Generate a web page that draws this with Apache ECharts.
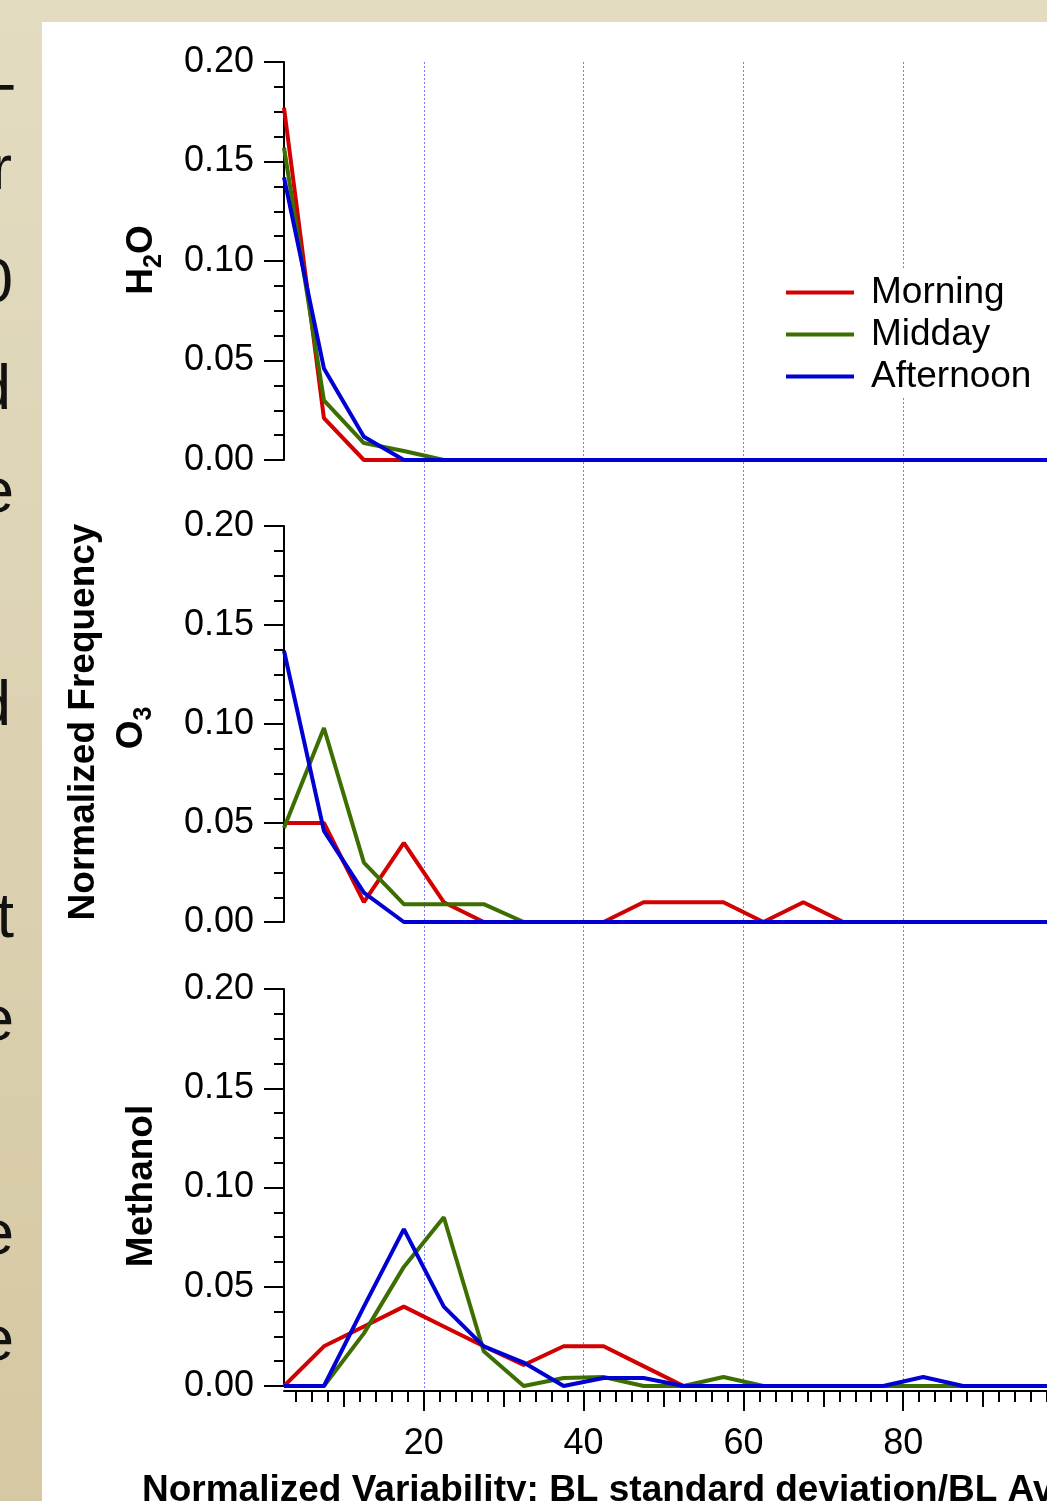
<!DOCTYPE html>
<html>
<head>
<meta charset="utf-8">
<script src="https://cdn.jsdelivr.net/npm/echarts@6/dist/echarts.min.js"></script>
<style>
html, body { margin: 0; padding: 0; }
body { background: linear-gradient(to bottom, #e3dcc1, #d5c8a3); }
#main { width: 1047px; height: 1501px; }
</style>
</head>
<body>
<div id="main"></div>
<script>
// bin centres of the normalized variability (%)
var bins = [2.5, 7.5, 12.5, 17.5, 22.5, 27.5, 32.5, 37.5, 42.5, 47.5, 52.5, 57.5, 62.5, 67.5, 72.5, 77.5, 82.5, 87.5, 92.5, 97.5, 102.5];

var seriesNames = ['Morning', 'Midday', 'Afternoon'];

// H2O
var h2oMorning   = [0.177, 0.021, 0, 0, 0, 0, 0, 0, 0, 0, 0, 0, 0, 0, 0, 0, 0, 0, 0, 0, 0];
var h2oMidday    = [0.157, 0.030, 0.0085, 0.0045, 0, 0, 0, 0, 0, 0, 0, 0, 0, 0, 0, 0, 0, 0, 0, 0, 0];
var h2oAfternoon = [0.142, 0.046, 0.0117, 0, 0, 0, 0, 0, 0, 0, 0, 0, 0, 0, 0, 0, 0, 0, 0, 0, 0];

// O3
var o3Morning   = [0.050, 0.050, 0.010, 0.040, 0.010, 0, 0, 0, 0, 0.010, 0.010, 0.010, 0, 0.010, 0, 0, 0, 0, 0, 0, 0];
var o3Midday    = [0.0475, 0.098, 0.030, 0.009, 0.009, 0.009, 0, 0, 0, 0, 0, 0, 0, 0, 0, 0, 0, 0, 0, 0, 0];
var o3Afternoon = [0.137, 0.046, 0.0148, 0, 0, 0, 0, 0, 0, 0, 0, 0, 0, 0, 0, 0, 0, 0, 0, 0, 0];

// Methanol
var meMorning   = [0, 0.020, 0.030, 0.040, 0.030, 0.020, 0.0106, 0.020, 0.020, 0.010, 0, 0, 0, 0, 0, 0, 0, 0, 0, 0, 0];
var meMidday    = [0, 0, 0.0265, 0.060, 0.085, 0.0175, 0, 0.004, 0.0045, 0, 0, 0.0045, 0, 0, 0, 0, 0, 0, 0, 0, 0];
var meAfternoon = [0, 0, 0.040, 0.079, 0.040, 0.020, 0.0118, 0, 0.004, 0.004, 0, 0, 0, 0, 0, 0, 0.0045, 0, 0, 0, 0];

var xMajorTicks = [20, 40, 60, 80];
var xMidTicks = [10, 30, 50, 70, 90];
var xMinorTicks = [4, 6, 8, 12, 14, 16, 18, 22, 24, 26, 28, 32, 34, 36, 38, 42, 44, 46, 48, 52, 54, 56, 58, 62, 64, 66, 68, 72, 74, 76, 78, 82, 84, 86, 88, 92, 94, 96, 98];

var colors = ['#d20000', '#3c6e00', '#0000d2'];

// letters of the slide text cut by the left edge
var sideLetters = [
    ['T', 15, 111], ['r', 12, 172], ['0', 13, 285], ['d', 11, 392], ['e', 14, 495],
    ['d', 11, 708], ['t', 14, 920], ['e', 14, 1023], ['e', 14, 1237], ['e', 14, 1343]
];

function pairs(vals) {
    return bins.map(function (x, i) { return [x, vals[i]]; });
}

var F = 'Liberation Sans';
var gridLeft = 284, gridWidth = 779;

function yAx(idx) {
    return {
        type: 'value', gridIndex: idx, min: 0, max: 0.2, interval: 0.05,
        axisLine: { show: true, lineStyle: { color: '#000', width: 2 } },
        axisTick: { show: true, inside: false, length: 20, lineStyle: { color: '#000', width: 2 } },
        minorTick: { show: true, splitNumber: 4, length: 10, lineStyle: { color: '#000', width: 2 } },
        splitLine: { show: false },
        axisLabel: { color: '#000', fontFamily: F, fontSize: 36, margin: 30, padding: [5, 0, 0, 0],
            formatter: function (v) { return v.toFixed(2); } }
    };
}

function hiddenX(idx) {
    return { type: 'value', gridIndex: idx, min: 2.5, max: 100, show: false };
}

function bottomX(ticks, len, withLine, withLabel) {
    return {
        type: 'value', gridIndex: 2, min: 2.5, max: 100, position: 'bottom', offset: 5,
        axisLine: { show: withLine, onZero: false, lineStyle: { color: '#000', width: 2 } },
        axisTick: { show: true, customValues: ticks, length: len, lineStyle: { color: '#000', width: 2 } },
        axisLabel: { show: withLabel, customValues: ticks, color: '#000', fontFamily: F, fontSize: 36, margin: 35 },
        splitLine: { show: false }
    };
}

function grid(top, height) {
    return { left: gridLeft, top: top, width: gridWidth, height: height, containLabel: false, outerBoundsMode: 'none' };
}

var series = [];
var sets = [[h2oMorning, h2oMidday, h2oAfternoon], [o3Morning, o3Midday, o3Afternoon], [meMorning, meMidday, meAfternoon]];
sets.forEach(function (set, g) {
    set.forEach(function (vals, k) {
        series.push({
            name: seriesNames[k], type: 'line', xAxisIndex: g, yAxisIndex: g,
            data: pairs(vals), showSymbol: false, symbol: 'none',
            lineStyle: { color: colors[k], width: 4 }, itemStyle: { color: colors[k] },
            z: 3 + k, animation: false
        });
    });
});

var bold = { fontFamily: F, fontWeight: 'bold', fontSize: 37, fill: '#000' };
var subRich = {
    a: { fontFamily: F, fontWeight: 'bold', fontSize: 37, lineHeight: 37, color: '#000' },
    s: { fontFamily: F, fontWeight: 'bold', fontSize: 25, lineHeight: 25, color: '#000', padding: [24, 0, 0, 0] }
};
var graphics = [
    { type: 'rect', z: -100, silent: true, shape: { x: 42, y: 22, width: 1005, height: 1479 }, style: { fill: '#fff' } },
    { type: 'text', x: 142, y: 260, rotation: Math.PI / 2, style: { text: '{a|H}{s|2}{a|O}', align: 'center', verticalAlign: 'middle', rich: subRich } },
    { type: 'text', x: 84, y: 722, rotation: Math.PI / 2, style: Object.assign({ text: 'Normalized Frequency', align: 'center', verticalAlign: 'middle' }, bold) },
    { type: 'text', x: 132, y: 728, rotation: Math.PI / 2, style: { text: '{a|O}{s|3}', align: 'center', verticalAlign: 'middle', rich: subRich } },
    { type: 'text', x: 142, y: 1186, rotation: Math.PI / 2, style: Object.assign({ text: 'Methanol', align: 'center', verticalAlign: 'middle' }, bold) },
    { type: 'text', x: 142, y: 1491, style: Object.assign({ text: 'Normalized Variability: BL standard deviation/BL Average [%]', align: 'left', verticalAlign: 'middle' }, bold) }
];
sideLetters.forEach(function (s) {
    graphics.push({ type: 'text', x: s[1], y: s[2], silent: true,
        style: { text: s[0], align: 'right', verticalAlign: 'middle', fontFamily: F, fontSize: 63, fill: '#111' } });
});

var chart = echarts.init(document.getElementById('main'), null, { renderer: 'canvas' });
chart.setOption({
    backgroundColor: 'transparent',
    animation: false,
    grid: [grid(62, 398), grid(526, 396), grid(989, 397), grid(62, 1329)],
    xAxis: [
        hiddenX(0), hiddenX(1),
        bottomX(xMinorTicks, 11, false, false),
        bottomX(xMidTicks, 16, false, false),
        bottomX(xMajorTicks, 20, true, true),
        {
            type: 'value', gridIndex: 3, min: 2.5, max: 100,
            axisLine: { show: false }, axisLabel: { show: false },
            axisTick: { show: false, customValues: xMajorTicks },
            splitLine: { show: true, customValues: xMajorTicks, lineStyle: { color: '#7a7aff', width: 1, type: [2, 2] } }
        }
    ],
    yAxis: [yAx(0), yAx(1), yAx(2), { type: 'value', gridIndex: 3, show: false, min: 0, max: 1 }],
    legend: {
        data: seriesNames, orient: 'vertical', left: 771, top: 268,
        icon: 'rect', itemWidth: 68, itemHeight: 4, itemGap: 5,
        backgroundColor: '#fff', padding: [6, 20, 3, 15], selectedMode: false,
        textStyle: { fontFamily: F, fontSize: 37, lineHeight: 37, color: '#000', padding: [0, 0, 0, 12] }
    },
    graphic: graphics,
    series: series
});
</script>
</body>
</html>
